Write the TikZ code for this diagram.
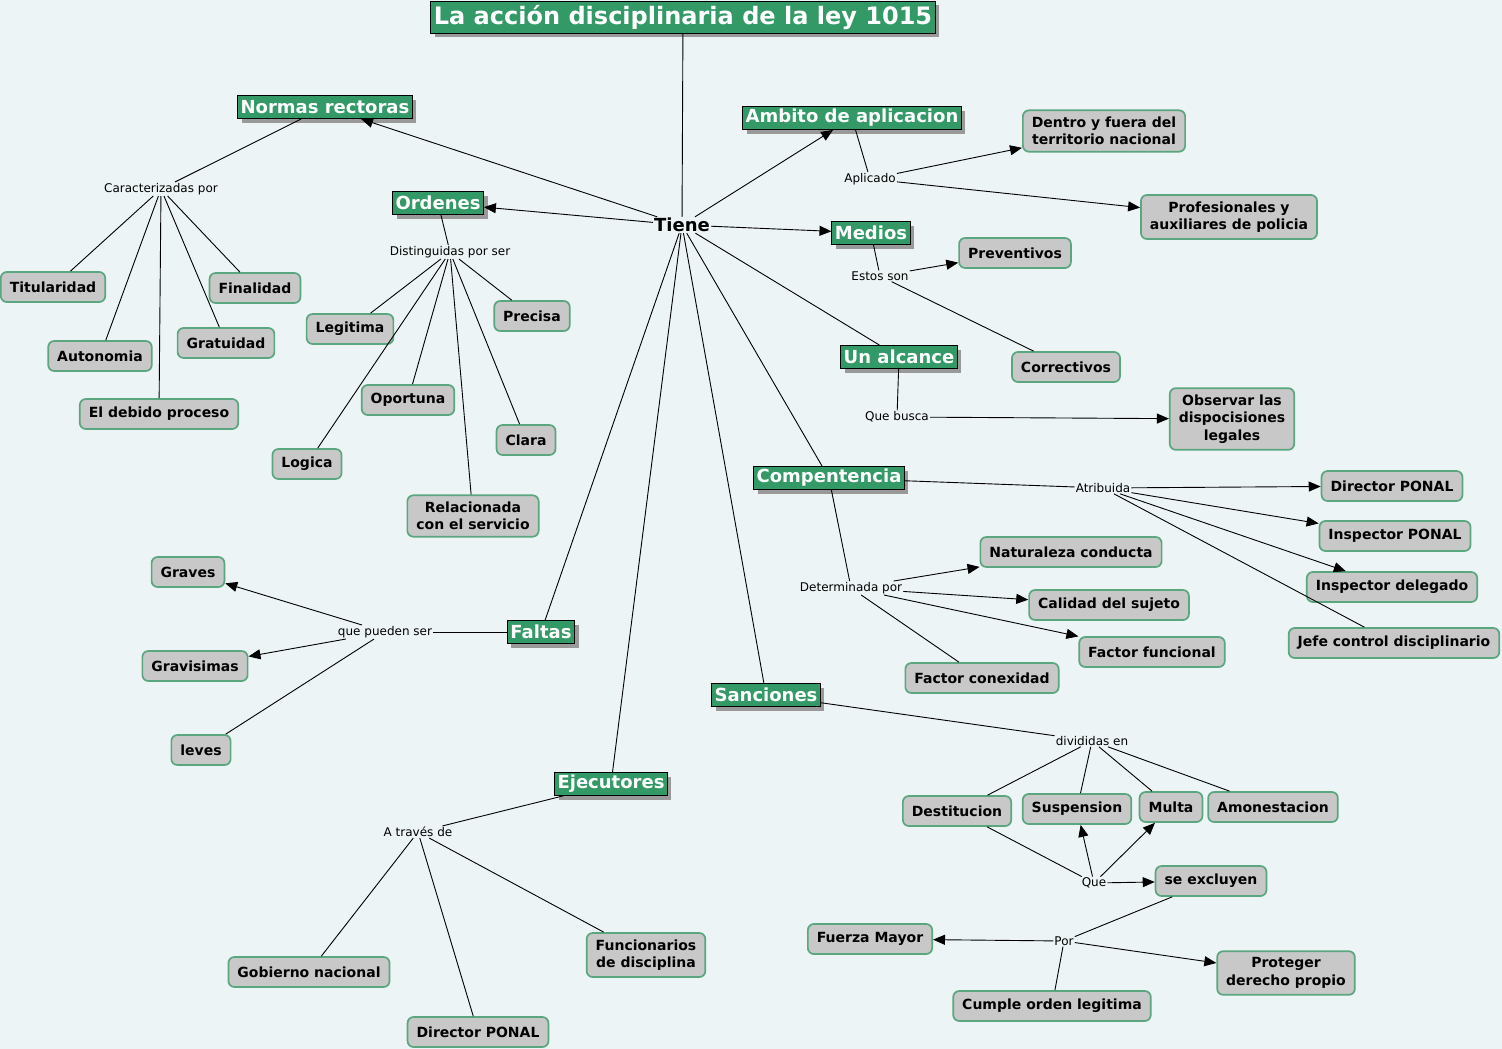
\documentclass[tikz,border=0pt]{standalone}
\usepackage{fontspec}
\setmainfont{DejaVu Sans}
\usepackage{xcolor}
\usetikzlibrary{arrows.meta,shadows}
\definecolor{fondo}{HTML}{EDF4F6}
\definecolor{verde}{HTML}{339966}
\definecolor{borde}{HTML}{5AA67E}
\definecolor{gris}{HTML}{C8C8C8}

\begin{document}
\begin{tikzpicture}[x=1pt,y=-1pt,
  tema/.style={draw=black,line width=0.8pt,fill=verde,text=white,
    font=\bfseries\fontsize{18}{20}\selectfont,inner xsep=3pt,inner ysep=1pt,minimum height=23pt,
    drop shadow={shadow xshift=4pt,shadow yshift=-4pt,fill=black!40,opacity=1}},
  concepto/.style={draw=borde,line width=1.7pt,fill=gris,rounded corners=6pt,align=center,
    font=\bfseries\fontsize{14}{17.5}\selectfont,inner xsep=9pt,inner ysep=6.5pt,minimum height=30pt},
  enlace/.style={font=\fontsize{12}{14}\selectfont,inner sep=1pt},
  conn/.style={line width=0.9pt},
  flecha/.style={conn,-{Triangle[length=12pt,width=10pt]}}]
  % lienzo: 1502 x 1049, y hacia abajo
  \fill[fondo] (0,0) rectangle (1502,1049);
  \useasboundingbox (0,0) rectangle (1502,1049);

  % titulo y nucleo
  \node[tema,font=\bfseries\fontsize{24}{26}\selectfont,minimum height=32pt] (titulo) at (683,17) {La acción disciplinaria de la ley 1015};
  \node[font=\bfseries\fontsize{18}{20}\selectfont,inner sep=1pt] (tiene) at (682,225) {Tiene};

  % temas principales
  \node[tema] (normas) at (325,107) {Normas rectoras};
  \node[tema] (ambito) at (852,118) {Ambito de aplicacion};
  \node[tema] (ordenes) at (438,203) {Ordenes};
  \node[tema] (medios) at (871,233) {Medios};
  \node[tema] (alcance) at (899,357) {Un alcance};
  \node[tema] (compet) at (829,478) {Compentencia};
  \node[tema] (faltas) at (541,632) {Faltas};
  \node[tema] (sanc) at (766,695) {Sanciones};
  \node[tema] (ejec) at (611,784) {Ejecutores};

  % frases de enlace
  \node[enlace] (lcar) at (161,189) {Caracterizadas por};
  \node[enlace] (ldist) at (450,252) {Distinguidas por ser};
  \node[enlace] (lapl) at (870,179) {Aplicado};
  \node[enlace] (lestos) at (880,276) {Estos son};
  \node[enlace] (lbusca) at (897,417) {Que busca};
  \node[enlace] (latrib) at (1103,488) {Atribuida};
  \node[enlace] (ldet) at (851,588) {Determinada por};
  \node[enlace] (lpueden) at (385,632) {que pueden ser};
  \node[enlace] (ldiv) at (1092,741) {divididas en};
  \node[enlace] (lque) at (1094,883) {Que};
  \node[enlace] (lpor) at (1064,941) {Por};
  \node[enlace] (ltraves) at (418,832) {A través de};

  % conceptos
  \node[concepto] (titul) at (53,287) {Titularidad};
  \node[concepto] (final) at (255,288) {Finalidad};
  \node[concepto] (auton) at (100,356) {Autonomia};
  \node[concepto] (gratu) at (226,343) {Gratuidad};
  \node[concepto] (debido) at (159,414) {El debido proceso};
  \node[concepto] (legit) at (350,329) {Legitima};
  \node[concepto] (precisa) at (532,316) {Precisa};
  \node[concepto] (oport) at (408,400) {Oportuna};
  \node[concepto] (clara) at (526,440) {Clara};
  \node[concepto] (logica) at (307,464) {Logica};
  \node[concepto] (relac) at (473,516) {Relacionada\\con el servicio};
  \node[concepto] (dentro) at (1104,131) {Dentro y fuera del\\territorio nacional};
  \node[concepto] (profes) at (1229,217) {Profesionales y\\auxiliares de policia};
  \node[concepto] (prev) at (1015,253) {Preventivos};
  \node[concepto] (correc) at (1066,367) {Correctivos};
  \node[concepto] (observar) at (1232,419) {Observar las\\dispocisiones\\legales};
  \node[concepto] (dirpon) at (1392,486) {Director PONAL};
  \node[concepto] (insppon) at (1395,536) {Inspector PONAL};
  \node[concepto] (inspdel) at (1392,587) {Inspector delegado};
  \node[concepto] (jefe) at (1394,643) {Jefe control disciplinario};
  \node[concepto] (natur) at (1071,552) {Naturaleza conducta};
  \node[concepto] (calidad) at (1109,605) {Calidad del sujeto};
  \node[concepto] (ffunc) at (1152,652) {Factor funcional};
  \node[concepto] (fconex) at (982,678) {Factor conexidad};
  \node[concepto] (graves) at (188,572) {Graves};
  \node[concepto] (gravis) at (195,666) {Gravisimas};
  \node[concepto] (leves) at (201,750) {leves};
  \node[concepto] (destit) at (957,811) {Destitucion};
  \node[concepto] (suspen) at (1077,809) {Suspension};
  \node[concepto] (multa) at (1171,807) {Multa};
  \node[concepto] (amon) at (1273,807) {Amonestacion};
  \node[concepto] (excl) at (1211,881) {se excluyen};
  \node[concepto] (fuerza) at (870,939) {Fuerza Mayor};
  \node[concepto] (proteger) at (1286,973) {Proteger\\derecho propio};
  \node[concepto] (cumple) at (1052,1006) {Cumple orden legitima};
  \node[concepto] (gobierno) at (309,972) {Gobierno nacional};
  \node[concepto] (dirpon2) at (478,1032) {Director PONAL};
  \node[concepto] (funcion) at (646,955) {Funcionarios\\de disciplina};

  % conexiones desde el nucleo
  \draw[conn] (titulo) -- (tiene);
  \foreach \t in {normas,ordenes,ambito,medios} \draw[flecha] (tiene) -- (\t);
  \foreach \t in {alcance,compet,sanc,faltas,ejec} \draw[conn] (tiene) -- (\t);

  % ramas
  \draw[conn] (normas) -- (lcar);
  \foreach \n in {titul,auton,debido,gratu,final} \draw[conn] (lcar) -- (\n);
  \draw[conn] (ordenes) -- (ldist);
  \foreach \n in {legit,logica,oport,relac,clara,precisa} \draw[conn] (ldist) -- (\n);
  \draw[conn] (ambito) -- (lapl);
  \foreach \n in {dentro,profes} \draw[flecha] (lapl) -- (\n);
  \draw[conn] (medios) -- (lestos);
  \draw[flecha] (lestos) -- (prev);
  \draw[conn] (lestos) -- (correc);
  \draw[conn] (alcance) -- (lbusca);
  \draw[flecha] (lbusca) -- (observar);
  \draw[conn] (compet) -- (latrib);
  \foreach \n in {dirpon,insppon,inspdel} \draw[flecha] (latrib) -- (\n);
  \draw[conn] (latrib) -- (jefe);
  \draw[conn] (compet) -- (ldet);
  \foreach \n in {natur,calidad,ffunc} \draw[flecha] (ldet) -- (\n);
  \draw[conn] (ldet) -- (fconex);
  \draw[conn] (faltas) -- (lpueden);
  \foreach \n in {graves,gravis} \draw[flecha] (lpueden) -- (\n);
  \draw[conn] (lpueden) -- (leves);
  \draw[conn] (sanc) -- (ldiv);
  \foreach \n in {destit,suspen,multa,amon} \draw[conn] (ldiv) -- (\n);
  \draw[conn] (destit) -- (lque);
  \foreach \n in {suspen,multa,excl} \draw[flecha] (lque) -- (\n);
  \draw[conn] (excl) -- (lpor);
  \foreach \n in {fuerza,proteger} \draw[flecha] (lpor) -- (\n);
  \draw[conn] (lpor) -- (cumple);
  \draw[conn] (ejec) -- (ltraves);
  \foreach \n in {gobierno,dirpon2,funcion} \draw[conn] (ltraves) -- (\n);
\end{tikzpicture}
\end{document}
